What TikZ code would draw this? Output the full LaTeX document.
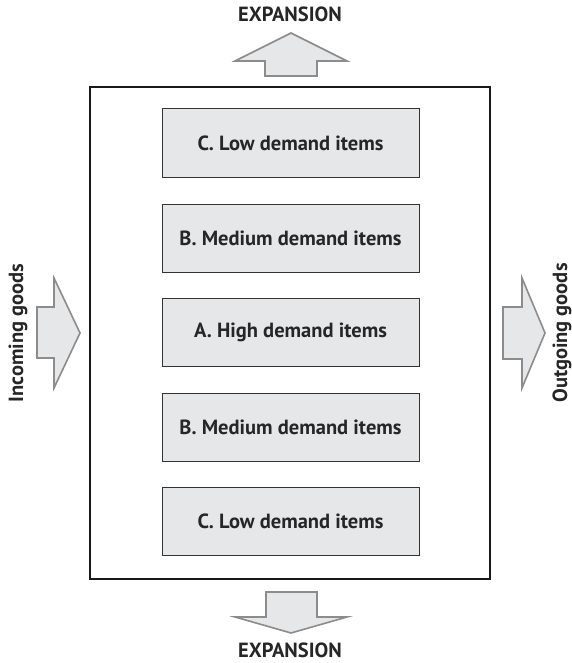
\documentclass[tikz,border=0pt]{standalone}
\usepackage{fontspec}
\setmainfont{PT Sans}
\definecolor{boxfill}{HTML}{E6E7E8}
\definecolor{arrowline}{HTML}{8C8C8C}
\definecolor{boxline}{HTML}{333333}
\begin{document}
\begin{tikzpicture}[x=1pt,y=-1pt,
  zone/.style={draw=boxline, line width=1pt, fill=boxfill, minimum width=257pt, minimum height=68pt, inner sep=0pt, font=\fontsize{20.5}{24}\selectfont\bfseries, text=black!85},
  bigarrow/.style={draw=arrowline, line width=1.6pt, fill=boxfill, line join=miter},
  label/.style={font=\fontsize{20.5}{24}\selectfont\bfseries, text=black!85, inner sep=0pt}]
\useasboundingbox (0,0) rectangle (572,663);
\node[draw=black!90, line width=2.2pt, minimum width=400pt, minimum height=492pt, inner sep=0pt] (wh) at (290,333) {};
\node[zone] (c1) at (290.5,143) {C. Low demand items};
\node[zone] (b1) at (290.5,238) {B. Medium demand items};
\node[zone] (a) at (290.5,332) {A. High demand items};
\node[zone] (b2) at (290.5,427) {B. Medium demand items};
\node[zone] (c2) at (290.5,521) {C. Low demand items};
% top arrow
\draw[bigarrow] (265,76) -- (265,61) -- (235,61) -- (291,33) -- (347,61) -- (317,61) -- (317,76) -- cycle;
\node[label] (t) at (290,14) {EXPANSION};
% bottom arrow
\draw[bigarrow] (266,592) -- (266,617) -- (235,617) -- (291,633) -- (347,617) -- (317,617) -- (317,592) -- cycle;
\node[label] (bt) at (290,650.5) {EXPANSION};
% left arrow
\draw[bigarrow] (37,307) -- (54,307) -- (54,278) -- (80,333) -- (54,388) -- (54,358) -- (37,358) -- cycle;
\node[label, rotate=90] (in) at (18,333) {Incoming goods};
% right arrow
\draw[bigarrow] (503,307) -- (522,307) -- (522,278) -- (545,333) -- (522,388) -- (522,359) -- (503,359) -- cycle;
\node[label, rotate=90] (out) at (562,333) {Outgoing goods};
\end{tikzpicture}
\end{document}
